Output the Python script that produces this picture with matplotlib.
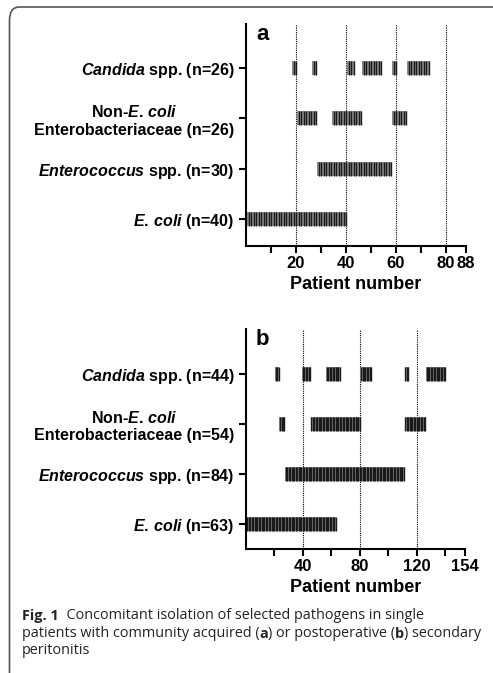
import numpy as np
import matplotlib.pyplot as plt
from matplotlib.patches import FancyBboxPatch

plt.rcParams['font.family'] = ['Liberation Sans', 'DejaVu Sans']
plt.rcParams['mathtext.fontset'] = 'custom'
plt.rcParams['mathtext.it'] = 'Liberation Sans:italic:bold'
plt.rcParams['mathtext.rm'] = 'Liberation Sans:bold'

# category labels (bottom to top)
labels_a = [r'$\mathit{E.\,coli}$ (n=40)',
            r'$\mathit{Enterococcus}$ spp. (n=30)',
            'Non-$\\mathit{E.\\,coli}$\nEnterobacteriaceae (n=26)',
            r'$\mathit{Candida}$ spp. (n=26)']
labels_b = [r'$\mathit{E.\,coli}$ (n=63)',
            r'$\mathit{Enterococcus}$ spp. (n=84)',
            'Non-$\\mathit{E.\\,coli}$\nEnterobacteriaceae (n=54)',
            r'$\mathit{Candida}$ spp. (n=44)']

# runs of consecutive patient numbers (first, last) per pathogen
ecoli_a = [(1, 40)]
entero_a = [(29, 58)]
nonecoli_a = [(21, 28), (35, 46), (59, 64)]
candida_a = [(19, 20), (27, 28), (41, 43), (47, 54), (59, 60), (65, 73)]

ecoli_b = [(1, 63)]
entero_b = [(28, 111)]
nonecoli_b = [(24, 27), (46, 80), (112, 126)]
candida_b = [(21, 23), (40, 45), (57, 66), (81, 88), (112, 114), (127, 140)]

xmax_a, xmax_b = 88, 154
major_a, minor_a = [20, 40, 60, 80, 88], [10, 30, 50, 70]
major_b, minor_b = [40, 80, 120, 154], [20, 60, 100, 140]
grid_a, grid_b = [20, 40, 60, 80], [40, 80, 120]

caption = [
    [('Fig. 1', 'bold'), ('  Concomitant isolation of selected pathogens in single', 'normal')],
    [('patients with community acquired (', 'normal'), ('a', 'bold'),
     (') or postoperative (', 'normal'), ('b', 'bold'), (') secondary', 'normal')],
    [('peritonitis', 'normal')],
]


def patients(runs):
    out = []
    for s, e in runs:
        out += list(range(s, e + 1))
    return np.array(out)


fig = plt.figure(figsize=(4.93, 6.73), dpi=100)

# frame with rounded corner
frame = FancyBboxPatch((9.5 / 493, -0.2), 1.2, 1.2 - 7 / 673,
                       boxstyle='round,pad=0,rounding_size=0.02',
                       transform=fig.transFigure, facecolor='none',
                       edgecolor='#555555', linewidth=1.2)
fig.patches.append(frame)


def panel(rect, series, labels, xmax, major, minor, grid, ylim, letter):
    ax = fig.add_axes(rect)
    for i, runs in enumerate(series):
        p = patients(runs)
        ax.bar(p - 0.5, 0.28, bottom=i + 1 - 0.14, width=1, align='edge',
               facecolor='#8a8a8a', edgecolor='none')
        ax.vlines(p, i + 1 - 0.14, i + 1 + 0.14, color='#1a1a1a', linewidth=1.0)
    for g in grid:
        ax.axvline(g, color='black', linestyle=(0, (1, 1)), linewidth=0.8, zorder=0)
    ax.set_xlim(0, xmax)
    ax.set_ylim(*ylim)
    ax.set_yticks([1, 2, 3, 4])
    ax.set_yticklabels(labels, fontsize=11.5, fontweight='bold', ha='center',
                       multialignment='center')
    ax.set_xticks(major)
    ax.set_xticks(minor, minor=True)
    ax.set_xticklabels([str(v) for v in major], fontsize=12, fontweight='bold')
    ax.set_xlabel('Patient number', fontsize=13, fontweight='bold', labelpad=4)
    for s in ['top', 'right']:
        ax.spines[s].set_visible(False)
    for s in ['left', 'bottom']:
        ax.spines[s].set_linewidth(1.5)
    ax.tick_params(axis='both', which='both', width=1.5, length=5)
    ax.tick_params(axis='x', which='major', pad=2)
    ax.text(0.045, 1.0, letter, transform=ax.transAxes, fontsize=16,
            fontweight='bold', va='top', ha='left')
    return ax


ax_a = panel([246 / 493, 1 - 246 / 673, 220 / 493, 222 / 673],
             [ecoli_a, entero_a, nonecoli_a, candida_a], labels_a,
             xmax_a, major_a, minor_a, grid_a, (0.46, 4.88), 'a')
ax_b = panel([246 / 493, 1 - 549 / 673, 219 / 493, 220 / 673],
             [ecoli_b, entero_b, nonecoli_b, candida_b], labels_b,
             xmax_b, major_b, minor_b, grid_b, (0.5, 4.9), 'b')

fig.canvas.draw()
for ax in (ax_a, ax_b):
    for t in ax.get_yticklabels():
        t.set_horizontalalignment('right')

# caption, pieces chained so bold parts sit inline
cap_font = ['Open Sans', 'DejaVu Sans']
for k, line in enumerate(caption):
    y = 1 - (620 + 17 * k) / 673
    prev = None
    for txt, wt in line:
        if prev is None:
            prev = fig.text(22 / 493, y, txt, fontsize=10.4, fontweight=wt,
                            family=cap_font, color='#222222', va='baseline')
        else:
            prev = fig.add_artist(plt.Annotation(
                txt, xy=(1, 0), xycoords=prev, fontsize=10.4, fontweight=wt,
                family=cap_font, color='#222222', va='bottom', ha='left'))

fig.savefig('out.png', dpi=100)
